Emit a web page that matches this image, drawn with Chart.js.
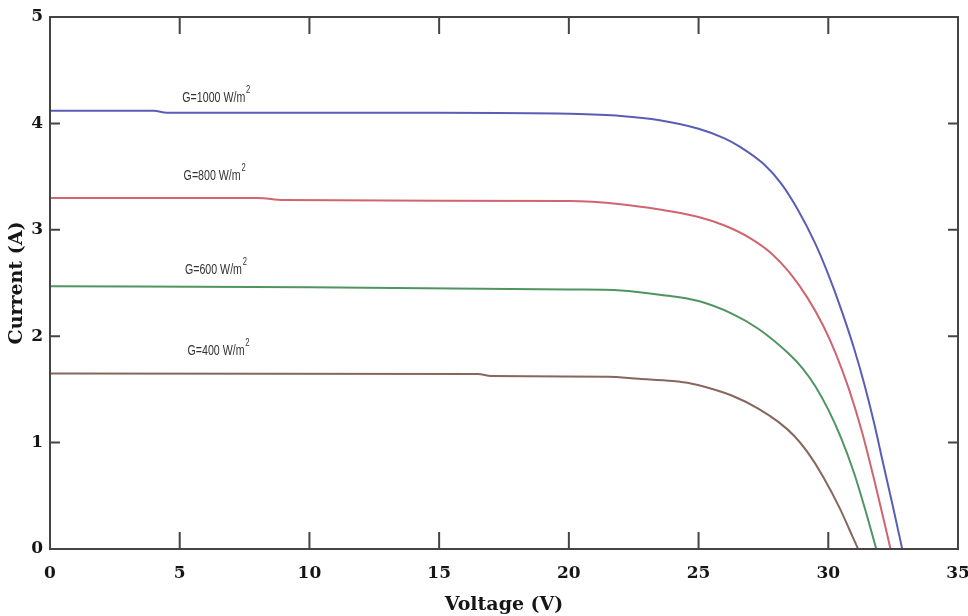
<!DOCTYPE html>
<html>
<head>
<meta charset="utf-8">
<title>I-V characteristics</title>
<script src="https://cdn.jsdelivr.net/npm/chart.js@4.4.0/dist/chart.umd.min.js"></script>
<style>
  html, body { margin: 0; padding: 0; background: #fff; }
  #wrap { width: 968px; height: 616px; }
</style>
</head>
<body>
<div id="wrap"><canvas id="ivChart" width="968" height="616"></canvas></div>
<script>
// Irradiance levels (W/m2), one curve each
const irradiance = [1000, 800, 600, 400];
const curveColors = ['#5a5db6', '#d0646f', '#4f9562', '#87665d'];

// Curve label anchors (voltage, current)
const labelVoltage = [5.1, 5.15, 5.2, 5.3];
const labelCurrent = [4.24, 3.50, 2.62, 1.86];

// G = 1000 W/m2
const voltage1000 = [0, 4, 4.5, 10, 15, 20, 22, 23.5, 25, 26, 26.6, 27.5, 28.2, 28.8, 29.5, 30, 30.5, 31, 31.4, 31.75, 32.1, 32.5, 32.85];
const current1000 = [4.12, 4.12, 4.10, 4.10, 4.10, 4.09, 4.07, 4.03, 3.95, 3.86, 3.78, 3.62, 3.43, 3.20, 2.87, 2.58, 2.25, 1.88, 1.54, 1.20, 0.82, 0.39, 0];

// G = 800 W/m2
const voltage800 = [0, 8, 9, 20, 22, 23.5, 25, 26, 27, 27.8, 28.5, 29.2, 29.8, 30.3, 30.8, 31.3, 31.8, 32.4];
const current800 = [3.30, 3.30, 3.28, 3.27, 3.24, 3.19, 3.12, 3.04, 2.92, 2.78, 2.60, 2.36, 2.10, 1.83, 1.50, 1.10, 0.62, 0];

// G = 600 W/m2
const voltage600 = [0, 10, 20, 22, 23.5, 25, 26.3, 27.3, 28.5, 29, 29.5, 30, 30.5, 31, 31.4, 31.85];
const current600 = [2.47, 2.46, 2.44, 2.43, 2.39, 2.33, 2.21, 2.07, 1.83, 1.70, 1.53, 1.31, 1.04, 0.71, 0.39, 0];

// G = 400 W/m2
const voltage400 = [0, 16.5, 17, 21.5, 22.7, 24, 24.7, 25.3, 26.3, 27.3, 28.1, 28.7, 29.2, 29.8, 30.45, 30.8, 31.15];
const current400 = [1.65, 1.645, 1.625, 1.62, 1.60, 1.578, 1.556, 1.52, 1.44, 1.32, 1.19, 1.06, 0.91, 0.68, 0.38, 0.19, 0];

const voltages = [voltage1000, voltage800, voltage600, voltage400];
const currents = [current1000, current800, current600, current400];

// Tick values
const voltageTicks = [0, 5, 10, 15, 20, 25, 30, 35];
const currentTicks = [0, 1, 2, 3, 4, 5];

const axisColor = '#444';
const textColor = '#161616';
const tickFont = { family: '"DejaVu Serif", serif', weight: 'bold', size: 17 };
const titleFont = { family: '"DejaVu Serif", serif', weight: 'bold', size: 19 };

const datasets = irradiance.map((g, i) => ({
    label: 'G=' + g + ' W/m2',
    data: voltages[i].map((v, k) => ({ x: v, y: currents[i][k] })),
    borderColor: curveColors[i],
    borderWidth: 2,
    pointRadius: 0,
    cubicInterpolationMode: 'monotone',
    fill: false
}));

// Box frame with inward tick marks on all four sides
const frameTicks = {
    id: 'frameTicks',
    afterDraw(chart) {
        const { ctx, chartArea: a, scales: { x, y } } = chart;
        ctx.save();
        ctx.strokeStyle = axisColor;
        ctx.lineWidth = 2;
        ctx.strokeRect(a.left, a.top, a.right - a.left, a.bottom - a.top);
        ctx.beginPath();
        voltageTicks.forEach(v => {
            const px = x.getPixelForValue(v);
            ctx.moveTo(px, a.bottom); ctx.lineTo(px, a.bottom - 17);
            ctx.moveTo(px, a.top); ctx.lineTo(px, a.top + 17);
        });
        currentTicks.forEach(c => {
            const py = y.getPixelForValue(c);
            ctx.moveTo(a.left, py); ctx.lineTo(a.left + 10, py);
            ctx.moveTo(a.right, py); ctx.lineTo(a.right - 10, py);
        });
        ctx.stroke();
        ctx.restore();
    }
};

// "G=xxx W/m²" labels above each curve, drawn narrow
const curveLabels = {
    id: 'curveLabels',
    afterDatasetsDraw(chart) {
        const { ctx, scales: { x, y } } = chart;
        ctx.save();
        ctx.fillStyle = '#333';
        ctx.textBaseline = 'middle';
        ctx.textAlign = 'left';
        irradiance.forEach((g, i) => {
            const px = x.getPixelForValue(labelVoltage[i]);
            const py = y.getPixelForValue(labelCurrent[i]);
            ctx.save();
            ctx.translate(px, py);
            ctx.scale(0.76, 1);
            ctx.font = '14px "Liberation Sans", Arial, sans-serif';
            const main = 'G=' + g + ' W/m';
            ctx.fillText(main, 0, 0);
            const w = ctx.measureText(main).width;
            ctx.font = '10px "Liberation Sans", Arial, sans-serif';
            ctx.fillText('2', w + 1, -8);
            ctx.restore();
        });
        ctx.restore();
    }
};

new Chart(document.getElementById('ivChart'), {
    type: 'line',
    data: { datasets },
    options: {
        responsive: false,
        animation: false,
        layout: { padding: { top: 17, right: 10, left: 0, bottom: 0 } },
        plugins: {
            legend: { display: false },
            tooltip: { enabled: false }
        },
        scales: {
            x: {
                type: 'linear',
                min: 0,
                max: 35,
                afterFit: s => { s.height = 67; s.paddingLeft = 0; s.paddingRight = 0; },
                afterBuildTicks: s => { s.ticks = voltageTicks.map(v => ({ value: v })); },
                grid: { display: false, drawTicks: false },
                border: { display: false },
                ticks: { padding: 14, color: textColor, font: tickFont, maxRotation: 0 },
                title: {
                    display: true,
                    text: 'Voltage (V)',
                    color: textColor,
                    font: titleFont,
                    padding: { top: 0, bottom: 0 }
                }
            },
            y: {
                type: 'linear',
                min: 0,
                max: 5,
                afterFit: s => { s.width = 50; s.paddingTop = 0; s.paddingBottom = 0; },
                afterBuildTicks: s => { s.ticks = currentTicks.map(c => ({ value: c })); },
                grid: { display: false, drawTicks: false },
                border: { display: false },
                ticks: { padding: 7, color: textColor, font: tickFont },
                title: {
                    display: true,
                    text: 'Current (A)',
                    color: textColor,
                    font: titleFont,
                    padding: { top: 6, bottom: 0 }
                }
            }
        }
    },
    plugins: [frameTicks, curveLabels]
});
</script>
</body>
</html>
